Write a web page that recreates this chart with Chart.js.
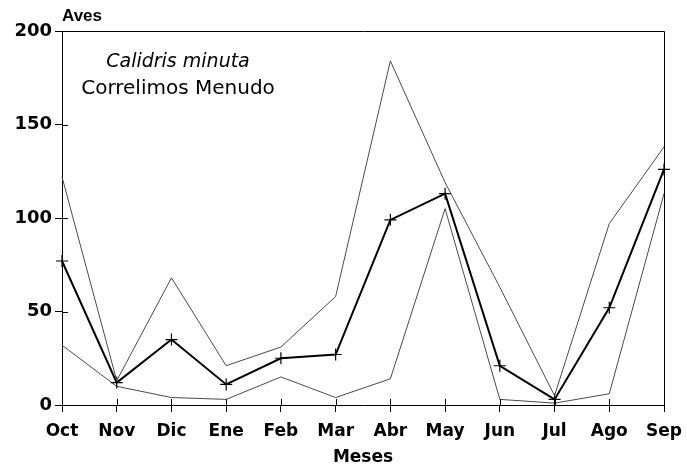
<!DOCTYPE html>
<html>
<head>
<meta charset="utf-8">
<script src="https://cdn.jsdelivr.net/npm/chart.js@4.4.1/dist/chart.umd.min.js"></script>
<style>
    html, body { margin: 0; padding: 0; background: #fff; }
    #wrap { width: 687px; height: 472px; }
</style>
</head>
<body>
<div id="wrap"><canvas id="avesChart" width="687" height="472"></canvas></div>
<script>
// Datos: aves contadas por mes (Calidris minuta)
const meses = ['Oct', 'Nov', 'Dic', 'Ene', 'Feb', 'Mar', 'Abr', 'May', 'Jun', 'Jul', 'Ago', 'Sep'];
const maximo = [122, 13, 68, 21, 31, 58, 184, 119, 63, 5, 97, 138];
const media = [77, 12, 35, 11, 25, 27, 99, 113, 21, 3, 52, 126];
const minimo = [32, 10, 4, 3, 15, 4, 14, 105, 3, 1, 6, 113];
const yTicks = [0, 50, 100, 150, 200];

const tickFont = { family: 'DejaVu Sans', size: 17, weight: 'bold' };

// Marco superior/derecho, ticks interiores y textos
const marcoPlugin = {
    id: 'marco',
    afterDraw(chart) {
        const ctx = chart.ctx;
        const a = chart.chartArea;
        const xs = chart.scales.x;
        const ys = chart.scales.y;
        ctx.save();
        ctx.strokeStyle = '#000';
        ctx.lineWidth = 1;
        ctx.beginPath();
        ctx.moveTo(a.left, a.top + 0.5);
        ctx.lineTo(a.right + 0.5, a.top + 0.5);
        ctx.lineTo(a.right + 0.5, a.bottom);
        // ticks hacia dentro
        yTicks.forEach(v => {
            const y = Math.round(ys.getPixelForValue(v)) + 0.5;
            ctx.moveTo(a.left, y);
            ctx.lineTo(a.left + 6, y);
        });
        meses.forEach((m, i) => {
            const x = Math.round(xs.getPixelForValue(i)) + 0.5;
            ctx.moveTo(x, a.bottom);
            ctx.lineTo(x, a.bottom - 6);
        });
        ctx.stroke();

        ctx.fillStyle = '#000';
        ctx.textBaseline = 'alphabetic';
        ctx.textAlign = 'left';
        ctx.font = 'bold 17px "Liberation Sans"';
        ctx.fillText('Aves', a.left, 21);

        ctx.textAlign = 'center';
        ctx.font = 'oblique 19px "DejaVu Sans"';
        ctx.fillText('Calidris minuta', 178, 67);
        ctx.font = '20px "DejaVu Sans"';
        ctx.fillText('Correlimos Menudo', 178, 94);
        ctx.restore();
    }
};

document.addEventListener('DOMContentLoaded', function () {
    const ctx = document.getElementById('avesChart');
    new Chart(ctx, {
        type: 'line',
        data: {
            labels: meses,
            datasets: [{
                label: 'Máximo',
                data: maximo,
                borderColor: '#4a4a4a',
                borderWidth: 1,
                pointRadius: 0,
                tension: 0,
                clip: false
            }, {
                label: 'Media',
                data: media,
                borderColor: '#000',
                borderWidth: 2,
                pointStyle: 'cross',
                pointRadius: 6,
                pointBorderWidth: 1.2,
                pointBorderColor: '#000',
                tension: 0,
                clip: false
            }, {
                label: 'Mínimo',
                data: minimo,
                borderColor: '#4a4a4a',
                borderWidth: 1,
                pointRadius: 0,
                tension: 0,
                clip: false
            }]
        },
        options: {
            responsive: false,
            animation: false,
            devicePixelRatio: 1,
            layout: { padding: { top: 31, right: 23, left: 0, bottom: 0 } },
            plugins: {
                legend: { display: false },
                tooltip: { enabled: false }
            },
            scales: {
                x: {
                    type: 'category',
                    offset: false,
                    grid: { drawOnChartArea: false, color: '#000', tickLength: 7 },
                    border: { color: '#000', width: 1 },
                    ticks: { color: '#000', font: tickFont, padding: 9, maxRotation: 0, autoSkip: false },
                    title: {
                        display: true,
                        text: 'Meses',
                        color: '#000',
                        font: { family: 'DejaVu Sans', size: 17, weight: 'bold' },
                        padding: { top: 0, bottom: 4 }
                    },
                    afterFit: s => {
                        s.height = 67;
                        s.paddingLeft = 0;
                        s.paddingRight = 0;
                    }
                },
                y: {
                    min: 0,
                    max: 200,
                    afterBuildTicks: s => { s.ticks = yTicks.map(v => ({ value: v })); },
                    grid: { drawOnChartArea: false, color: '#000', tickLength: 7 },
                    border: { color: '#000', width: 1 },
                    ticks: { color: '#000', font: { family: 'DejaVu Sans', size: 18, weight: 'bold' }, padding: 3 },
                    afterFit: s => { s.width = 62; }
                }
            }
        },
        plugins: [marcoPlugin]
    });
});
</script>
</body>
</html>
